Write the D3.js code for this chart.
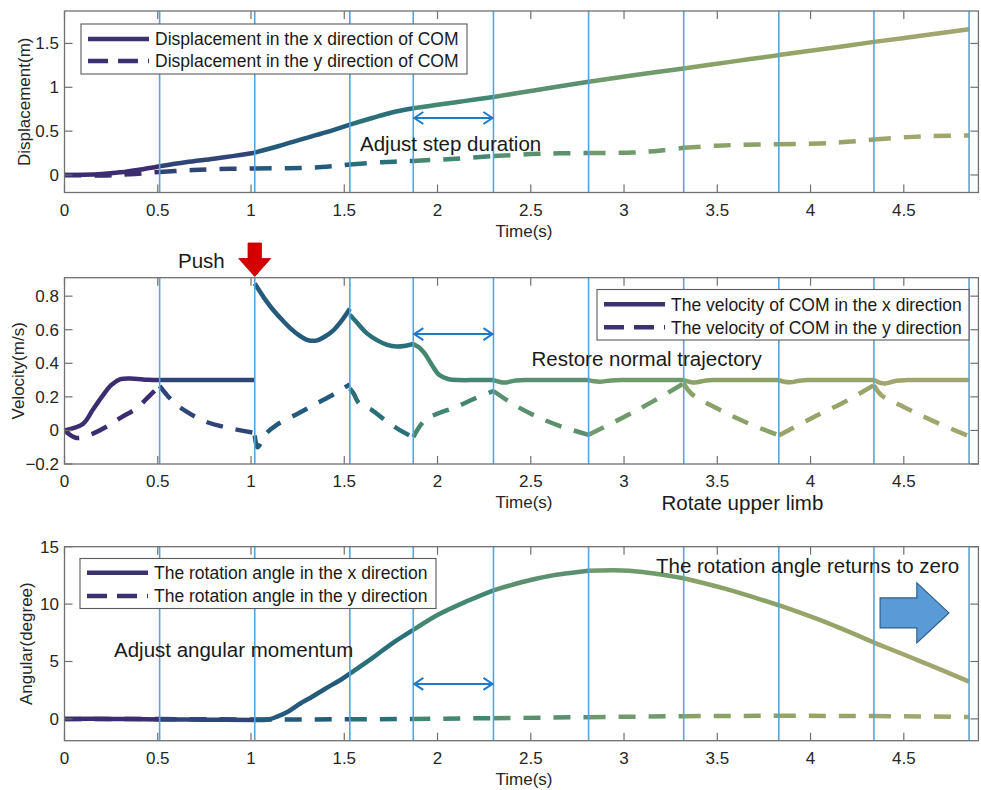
<!DOCTYPE html>
<html><head><meta charset="utf-8">
<script src="https://cdn.jsdelivr.net/npm/d3@7"></script>
<style>
body{margin:0;background:#fff}
svg{display:block}
text{font-family:"Liberation Sans",Arial,Helvetica,sans-serif}
</style>
</head><body>
<svg id="chart" width="981" height="790"></svg>
<script>
// ---------------- data ----------------
const stepBounds = [0.51, 1.02, 1.53, 1.87, 2.30, 2.81, 3.32, 3.83, 4.34, 4.85];
const segColors = ["#3b2d70", "#2f4578", "#245a7b", "#2b6f78", "#438672", "#5a9070", "#6f9a6c", "#8aa266", "#96a468", "#a0a66d"];
const xTicks = [0, 0.5, 1, 1.5, 2, 2.5, 3, 3.5, 4, 4.5];
const dispTicks = [0, 0.5, 1, 1.5];
const velTicks = [-0.2, 0, 0.2, 0.4, 0.6, 0.8];
const angTicks = [0, 5, 10, 15];

// [time (s), value]
const dispX = [[0,0],[0.1,0.002],[0.2,0.01],[0.3,0.03],[0.4,0.06],[0.51,0.1],[0.65,0.145],[0.8,0.185],[0.9,0.215],[1.02,0.254],
  [1.15,0.33],[1.26,0.40],[1.4,0.485],[1.53,0.575],[1.65,0.65],[1.75,0.71],[1.87,0.76],[2.0,0.80],[2.15,0.845],[2.30,0.89],
  [2.55,0.975],[2.81,1.063],[3.06,1.14],[3.32,1.215],[3.57,1.29],[3.83,1.367],[4.08,1.44],[4.34,1.518],[4.6,1.59],[4.85,1.663]];
const dispY = [[0,0],[0.2,-0.005],[0.35,0.008],[0.51,0.035],[0.65,0.052],[0.8,0.065],[1.02,0.075],[1.2,0.077],[1.38,0.09],[1.53,0.12],
  [1.7,0.145],[1.87,0.16],[2.1,0.185],[2.30,0.215],[2.5,0.238],[2.65,0.247],[2.81,0.25],[3.05,0.256],[3.2,0.28],[3.32,0.31],
  [3.5,0.334],[3.65,0.345],[3.83,0.35],[4.05,0.36],[4.2,0.378],[4.34,0.405],[4.5,0.43],[4.65,0.444],[4.85,0.45]];
const velX = [[0,0],[0.1,0.04],[0.15,0.12],[0.2,0.2],[0.25,0.27],[0.3,0.305],[0.35,0.31],[0.45,0.302],[0.51,0.30],
  [0.75,0.30],[1.02,0.30],
  [1.02,0.875],[1.07,0.79],[1.12,0.716],[1.17,0.655],[1.21,0.61],[1.26,0.565],[1.3,0.54],[1.35,0.535],[1.39,0.555],[1.44,0.595],[1.48,0.645],[1.53,0.725],
  [1.53,0.69],[1.57,0.64],[1.62,0.58],[1.68,0.535],[1.73,0.51],[1.78,0.5],[1.83,0.505],[1.87,0.515],
  [1.90,0.495],[1.93,0.46],[1.97,0.39],[2.01,0.33],[2.06,0.305],[2.12,0.3],[2.2,0.3],[2.30,0.30],
  [2.33,0.29],[2.36,0.285],[2.42,0.298],[2.5,0.30],[2.81,0.30],
  [2.84,0.293],[2.87,0.29],[2.93,0.298],[3.0,0.30],[3.32,0.30],
  [3.35,0.29],[3.38,0.285],[3.44,0.298],[3.5,0.30],[3.83,0.30],
  [3.86,0.29],[3.89,0.287],[3.95,0.298],[4.0,0.30],[4.34,0.30],
  [4.37,0.285],[4.4,0.28],[4.46,0.296],[4.52,0.30],[4.85,0.30]];
const velY = [[0,0],[0.065,-0.045],[0.14,-0.025],[0.23,0.025],[0.3,0.075],[0.39,0.135],[0.45,0.2],[0.51,0.265],
  [0.55,0.21],[0.6,0.155],[0.65,0.115],[0.75,0.055],[0.88,0.015],[1.02,-0.015],
  [1.02,-0.03],[1.035,-0.1],[1.08,-0.02],[1.14,0.035],[1.25,0.1],[1.35,0.16],[1.45,0.22],[1.53,0.275],
  [1.53,0.25],[1.55,0.22],[1.58,0.16],[1.65,0.12],[1.72,0.06],[1.8,0.0],[1.87,-0.04],
  [1.93,0.06],[2.0,0.1],[2.1,0.14],[2.2,0.19],[2.30,0.235],
  [2.4,0.16],[2.5,0.1],[2.6,0.05],[2.7,0.01],[2.81,-0.026],
  [3.0,0.08],[3.15,0.17],[3.32,0.28],
  [3.36,0.22],[3.5,0.13],[3.65,0.05],[3.83,-0.03],
  [4.0,0.07],[4.2,0.18],[4.34,0.27],
  [4.38,0.21],[4.5,0.14],[4.65,0.06],[4.85,-0.035]];
const angX = [[0,0],[0.25,0],[0.51,-0.05],[0.75,-0.07],[1.02,-0.1],[1.1,-0.03],[1.14,0.2],[1.2,0.65],[1.26,1.3],[1.33,1.95],
  [1.4,2.65],[1.47,3.3],[1.53,3.95],[1.65,5.3],[1.75,6.5],[1.87,7.75],[2.0,9.05],[2.15,10.2],[2.30,11.2],[2.45,11.9],
  [2.6,12.45],[2.81,12.9],[2.95,12.95],[3.1,12.8],[3.32,12.25],[3.55,11.3],[3.83,9.9],[4.1,8.3],[4.34,6.65],[4.6,4.95],[4.85,3.25]];
const angY = [[0,0],[0.51,-0.02],[1.02,-0.05],[1.53,-0.04],[1.87,0.0],[2.30,0.06],[2.81,0.15],[3.32,0.24],[3.83,0.27],[4.34,0.25],[4.85,0.17]];

const dispLegend = ["Displacement in the x direction of COM", "Displacement in the y direction of COM"];
const velLegend = ["The velocity of COM in the x direction", "The velocity of COM in the y direction"];
const angLegend = ["The rotation angle in the x direction", "The rotation angle in the y direction"];

// ---------------- drawing ----------------
const svg = d3.select("#chart");
const X0 = 64.5, X1 = 978.4;
const x = d3.scaleLinear().domain([0, 4.9]).range([X0, X1]);
const AXIS = "#707070", TXT = "#262626", VLINE = "#55a5da", ARROW = "#1f7ac6", LEGC = "#3a3370";
const DASH = "17,13";

function splitSegs(pts) {
  const segs = []; let cur = []; let bi = 0;
  for (let i = 0; i < pts.length; i++) {
    const t = pts[i][0];
    cur.push(pts[i]);
    if (bi < stepBounds.length && Math.abs(t - stepBounds[bi]) < 1e-9) {
      segs.push({ idx: bi, pts: cur });
      const dup = i + 1 < pts.length && Math.abs(pts[i + 1][0] - t) < 1e-9;
      cur = dup ? [] : [pts[i]];
      bi++;
    }
  }
  return segs;
}

function panel(cfg) {
  const y = d3.scaleLinear().domain(cfg.domain).range([cfg.bottom, cfg.top]);
  const g = svg.append("g");
  const line = d3.line().x(d => x(d[0])).y(d => y(d[1])).curve(d3.curveCatmullRom.alpha(0.5));
  const clipId = "clip" + cfg.id;
  svg.append("clipPath").attr("id", clipId).append("rect")
    .attr("x", X0).attr("y", cfg.top).attr("width", X1 - X0).attr("height", cfg.bottom - cfg.top);
  const cg = g.append("g").attr("clip-path", `url(#${clipId})`);
  splitSegs(cfg.ySeries).forEach(s => {
    cg.append("path").attr("d", line(s.pts)).attr("fill", "none")
      .attr("stroke", segColors[s.idx]).attr("stroke-width", 4.5).attr("stroke-dasharray", DASH);
  });
  splitSegs(cfg.xSeries).forEach(s => {
    cg.append("path").attr("d", line(s.pts)).attr("fill", "none")
      .attr("stroke", segColors[s.idx]).attr("stroke-width", 4.5).attr("stroke-linejoin", "round");
  });
  // step lines
  g.selectAll(".vl").data(stepBounds).enter().append("line")
    .attr("x1", d => x(d)).attr("x2", d => x(d)).attr("y1", cfg.top).attr("y2", cfg.bottom)
    .attr("stroke", VLINE).attr("stroke-width", 1.6);
  // box + ticks
  g.append("rect").attr("x", X0).attr("y", cfg.top).attr("width", X1 - X0).attr("height", cfg.bottom - cfg.top)
    .attr("fill", "none").attr("stroke", AXIS).attr("stroke-width", 1.3);
  const tl = 8;
  xTicks.forEach(t => {
    g.append("line").attr("x1", x(t)).attr("x2", x(t)).attr("y1", cfg.bottom).attr("y2", cfg.bottom - tl).attr("stroke", AXIS).attr("stroke-width", 1.2);
    g.append("line").attr("x1", x(t)).attr("x2", x(t)).attr("y1", cfg.top).attr("y2", cfg.top + tl).attr("stroke", AXIS).attr("stroke-width", 1.2);
    g.append("text").attr("x", x(t)).attr("y", cfg.bottom + 23).attr("text-anchor", "middle")
      .attr("font-size", 17).attr("fill", TXT).text(d3.format("~g")(t));
  });
  cfg.yTicks.forEach(v => {
    g.append("line").attr("x1", X0).attr("x2", X0 + tl).attr("y1", y(v)).attr("y2", y(v)).attr("stroke", AXIS).attr("stroke-width", 1.2);
    g.append("line").attr("x1", X1).attr("x2", X1 - tl).attr("y1", y(v)).attr("y2", y(v)).attr("stroke", AXIS).attr("stroke-width", 1.2);
    g.append("text").attr("x", 59).attr("y", y(v) + 6).attr("text-anchor", "end")
      .attr("font-size", 17).attr("fill", TXT).text(d3.format("~g")(v));
  });
  g.append("text").attr("x", 524).attr("y", cfg.bottom + 44).attr("text-anchor", "middle")
    .attr("font-size", 17).attr("fill", TXT).text("Time(s)");
  g.append("text").attr("transform", `translate(${cfg.ylabX},${(cfg.top + cfg.bottom) / 2}) rotate(-90)`)
    .attr("text-anchor", "middle").attr("font-size", 17).attr("fill", TXT).text(cfg.ylabel);
  // double arrow
  const ay = y(cfg.arrowVal), ax1 = x(stepBounds[3]) + 1, ax2 = x(stepBounds[4]) - 1;
  g.append("line").attr("x1", ax1).attr("x2", ax2).attr("y1", ay).attr("y2", ay).attr("stroke", ARROW).attr("stroke-width", 2);
  g.append("path").attr("d", `M${ax1 + 9},${ay - 6}L${ax1},${ay}L${ax1 + 9},${ay + 6}M${ax2 - 9},${ay - 6}L${ax2},${ay}L${ax2 - 9},${ay + 6}`)
    .attr("fill", "none").attr("stroke", ARROW).attr("stroke-width", 2);
  // legend
  const L = cfg.legend;
  const lg = g.append("g");
  lg.append("rect").attr("x", L.x).attr("y", L.y).attr("width", L.w).attr("height", L.h)
    .attr("fill", "#fff").attr("stroke", "#5a5a5a").attr("stroke-width", 1.1);
  cfg.legendLabels.forEach((lab, i) => {
    const ry = L.y + L.r0 + i * L.dr;
    lg.append("line").attr("x1", L.x + 7).attr("x2", L.x + 68).attr("y1", ry).attr("y2", ry)
      .attr("stroke", LEGC).attr("stroke-width", 4.5).attr("stroke-dasharray", i ? "20,10" : null);
    lg.append("text").attr("x", L.x + 74).attr("y", ry + 6.2).attr("font-size", 17.5).attr("fill", "#1a1a1a").text(lab);
  });
  return { g, y };
}

const p1 = panel({ id: 1, top: 11, bottom: 192.5, domain: [-0.2, 1.87], yTicks: dispTicks, xSeries: dispX, ySeries: dispY,
  ylabel: "Displacement(m)", ylabX: 30, arrowVal: 0.65, legendLabels: dispLegend,
  legend: { x: 81, y: 24, w: 386, h: 50, r0: 15, dr: 22 } });
const p2 = panel({ id: 2, top: 277.7, bottom: 464, domain: [-0.2, 0.91], yTicks: velTicks, xSeries: velX, ySeries: velY,
  ylabel: "Velocity(m/s)", ylabX: 24, arrowVal: 0.574, legendLabels: velLegend,
  legend: { x: 597, y: 289.5, w: 372, h: 50.5, r0: 14.8, dr: 23 } });
const p3 = panel({ id: 3, top: 546.7, bottom: 740.7, domain: [-1.9, 15], yTicks: angTicks, xSeries: angX, ySeries: angY,
  ylabel: "Angular(degree)", ylabX: 32, arrowVal: 3.05, legendLabels: angLegend,
  legend: { x: 80, y: 558.5, w: 356, h: 50, r0: 14.2, dr: 23.3 } });

// annotations
const ANN = 20.5;
function ann(xp, yp, s) {
  svg.append("text").attr("x", xp).attr("y", yp).attr("font-size", ANN).attr("fill", "#1a1a1a").text(s);
}
ann(360, 150.5, "Adjust step duration");
ann(531.5, 365.5, "Restore normal trajectory");
ann(661.5, 509.5, "Rotate upper limb");
ann(114, 656.5, "Adjust angular momentum");
ann(656, 572.5, "The rotation angle returns to zero");
ann(178, 267.5, "Push");

// red push arrow (tip at the push instant, just above panel 2)
const tipX = x(stepBounds[1]), tipY = 276.5;
svg.append("path").attr("d",
  `M${tipX},${tipY}L${tipX - 16},${tipY - 18}L${tipX - 6.7},${tipY - 18}L${tipX - 6.7},${tipY - 33.5}` +
  `L${tipX + 6.7},${tipY - 33.5}L${tipX + 6.7},${tipY - 18}L${tipX + 16},${tipY - 18}Z`)
  .attr("fill", "#d40000").attr("stroke", "#b00000").attr("stroke-width", 0.8);

// blue block arrow in panel 3
const bx0 = x(4.373), bx1 = x(4.57), bx2 = x(4.742);
const by = p3.y(9.23);
svg.append("path").attr("d",
  `M${bx0},${by - 15}L${bx1},${by - 15}L${bx1},${by - 30}L${bx2},${by}L${bx1},${by + 30}L${bx1},${by + 15}L${bx0},${by + 15}Z`)
  .attr("fill", "#5b9bd5").attr("stroke", "#2e5f8f").attr("stroke-width", 1.2).attr("stroke-linejoin", "miter");
</script>
</body></html>
